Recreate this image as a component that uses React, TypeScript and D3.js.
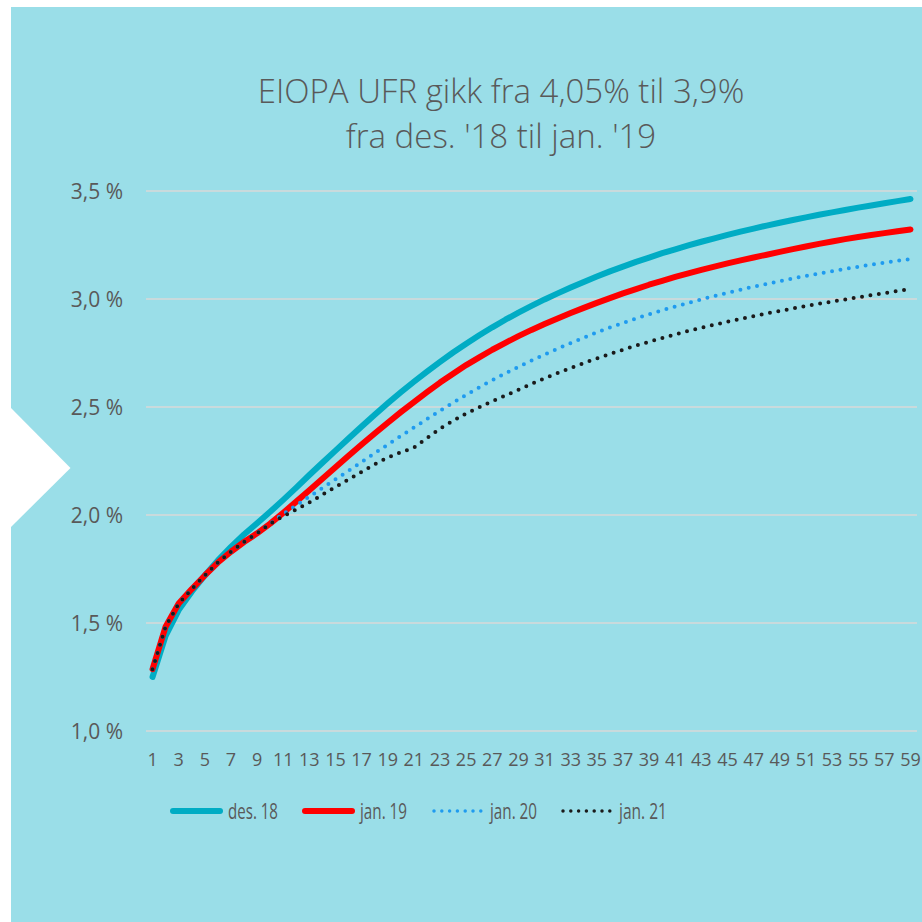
import React from "react";
import * as d3 from "d3";

const maturities: number[] = d3.range(1, 60);

const des18: number[] = [
  1.25, 1.44, 1.56, 1.645, 1.72, 1.79, 1.852, 1.91, 1.962, 2.015,
  2.07, 2.127, 2.185, 2.242, 2.298, 2.354, 2.41, 2.464, 2.517, 2.568,
  2.617, 2.664, 2.709, 2.752, 2.793, 2.832, 2.869, 2.904, 2.937, 2.968,
  2.998, 3.026, 3.053, 3.079, 3.104, 3.128, 3.15, 3.172, 3.192, 3.212,
  3.23, 3.248, 3.265, 3.281, 3.297, 3.312, 3.326, 3.34, 3.353, 3.366,
  3.378, 3.39, 3.401, 3.412, 3.423, 3.433, 3.443, 3.453, 3.463,
];

const jan19: number[] = [
  1.286, 1.483, 1.59, 1.657, 1.72, 1.78, 1.83, 1.875, 1.915, 1.96,
  2.01, 2.062, 2.115, 2.168, 2.221, 2.274, 2.326, 2.377, 2.427, 2.476,
  2.523, 2.569, 2.613, 2.654, 2.694, 2.73, 2.765, 2.797, 2.828, 2.857,
  2.884, 2.91, 2.935, 2.959, 2.982, 3.004, 3.026, 3.046, 3.066, 3.084,
  3.102, 3.119, 3.135, 3.15, 3.165, 3.179, 3.192, 3.205, 3.218, 3.231,
  3.243, 3.255, 3.266, 3.277, 3.287, 3.296, 3.305, 3.314, 3.322,
];

const jan20: number[] = [
  1.286, 1.483, 1.59, 1.657, 1.72, 1.78, 1.83, 1.875, 1.915, 1.96,
  2.005, 2.045, 2.085, 2.125, 2.165, 2.205, 2.245, 2.286, 2.326, 2.366,
  2.405, 2.444, 2.483, 2.52, 2.556, 2.591, 2.624, 2.656, 2.686, 2.715,
  2.743, 2.77, 2.796, 2.821, 2.845, 2.868, 2.889, 2.91, 2.929, 2.948,
  2.965, 2.982, 2.998, 3.014, 3.029, 3.043, 3.057, 3.07, 3.083, 3.095,
  3.107, 3.118, 3.129, 3.139, 3.149, 3.159, 3.168, 3.177, 3.185,
];

const jan21: number[] = [
  1.286, 1.483, 1.59, 1.657, 1.72, 1.78, 1.83, 1.875, 1.915, 1.96,
  1.995, 2.025, 2.058, 2.094, 2.13, 2.165, 2.20, 2.235, 2.266, 2.29,
  2.312, 2.356, 2.40, 2.436, 2.47, 2.499, 2.527, 2.553, 2.58, 2.607,
  2.633, 2.657, 2.681, 2.703, 2.725, 2.745, 2.765, 2.784, 2.802, 2.819,
  2.836, 2.852, 2.867, 2.881, 2.895, 2.908, 2.921, 2.933, 2.945, 2.956,
  2.967, 2.978, 2.988, 2.998, 3.008, 3.018, 3.027, 3.037, 3.046,
];

const yTicks: number[] = [1.0, 1.5, 2.0, 2.5, 3.0, 3.5];
const xTickLabels: number[] = maturities.filter((m) => m % 2 === 1);

const titleLines: string[] = ["EIOPA UFR gikk fra 4,05% til 3,9%", "fra des. '18 til jan. '19"];

const series = [
  { name: "des. 18", values: des18, color: "#00acc4", width: 6, dotted: false },
  { name: "jan. 19", values: jan19, color: "#ff0000", width: 6, dotted: false },
  { name: "jan. 20", values: jan20, color: "#1f9bef", width: 4, dotted: true },
  { name: "jan. 21", values: jan21, color: "#1a1a1a", width: 4, dotted: true },
];

const W = 922;
const H = 922;
const plotLeft = 146;
const plotRight = 917;
const plotTop = 191;
const plotBottom = 731;
const textColor = "#595959";
const font = "'Open Sans', 'DejaVu Sans', sans-serif";

export default function App() {
  const x = d3
    .scaleBand<number>()
    .domain(maturities)
    .range([plotLeft, plotRight]);
  const cx = (m: number) => (x(m) as number) + x.bandwidth() / 2;
  const y = d3.scaleLinear().domain([1.0, 3.5]).range([plotBottom, plotTop]);

  const line = d3
    .line<number>()
    .x((_, i) => cx(maturities[i]))
    .y((v) => y(v));

  const fmt = (v: number) => d3.format(".1f")(v).replace(".", ",") + " %";

  const legendX = [170, 302, 433, 562];
  const legendTextW = [50, 47, 47, 48];
  const legendY = 811;

  return (
    <svg
      width={W}
      height={H}
      style={{ position: "absolute", left: 0, top: 0, display: "block" }}
      fontFamily={font}
    >
      <rect x={0} y={0} width={W} height={H} fill="#ffffff" />
      <rect x={11} y={7} width={W - 11} height={H - 7} fill="#9adee8" />
      <polygon points="11,408 70.5,468 11,527" fill="#ffffff" />

      {titleLines.map((t, i) => (
        <text
          key={i}
          x={501}
          y={103 + i * 45}
          textAnchor="middle"
          fontSize={33}
          fontWeight={300}
          fill={textColor}
        >
          {t}
        </text>
      ))}

      {yTicks.map((t) => (
        <g key={t}>
          <line
            x1={plotLeft}
            x2={plotRight}
            y1={y(t)}
            y2={y(t)}
            stroke="#d9d9d9"
            strokeWidth={1.6}
          />
          <text
            x={123}
            y={y(t)}
            textAnchor="end"
            dominantBaseline="central"
            fontSize={21}
            fill={textColor}
          >
            {fmt(t)}
          </text>
        </g>
      ))}

      {xTickLabels.map((m) => (
        <text
          key={m}
          x={cx(m)}
          y={766}
          textAnchor="middle"
          fontSize={18}
          fill={textColor}
        >
          {m}
        </text>
      ))}

      {series.map((s) => (
        <path
          key={s.name}
          d={line(s.values) || ""}
          fill="none"
          stroke={s.color}
          strokeWidth={s.width}
          strokeLinecap="round"
          strokeLinejoin="round"
          strokeDasharray={s.dotted ? "0 8.5" : undefined}
        />
      ))}

      {series.map((s, i) => (
        <g key={s.name}>
          <line
            x1={legendX[i] + (s.dotted ? 1 : 3)}
            x2={legendX[i] + 50}
            y1={legendY}
            y2={legendY}
            stroke={s.color}
            strokeWidth={s.dotted ? 3.5 : 6}
            strokeLinecap="round"
            strokeDasharray={s.dotted ? "0 7.8" : undefined}
          />
          <text
            x={legendX[i] + (s.dotted ? 57 : 58)}
            y={legendY + 8}
            fontSize={21}
            fill={textColor}
            textLength={legendTextW[i]}
            lengthAdjust="spacingAndGlyphs"
          >
            {s.name}
          </text>
        </g>
      ))}
    </svg>
  );
}
